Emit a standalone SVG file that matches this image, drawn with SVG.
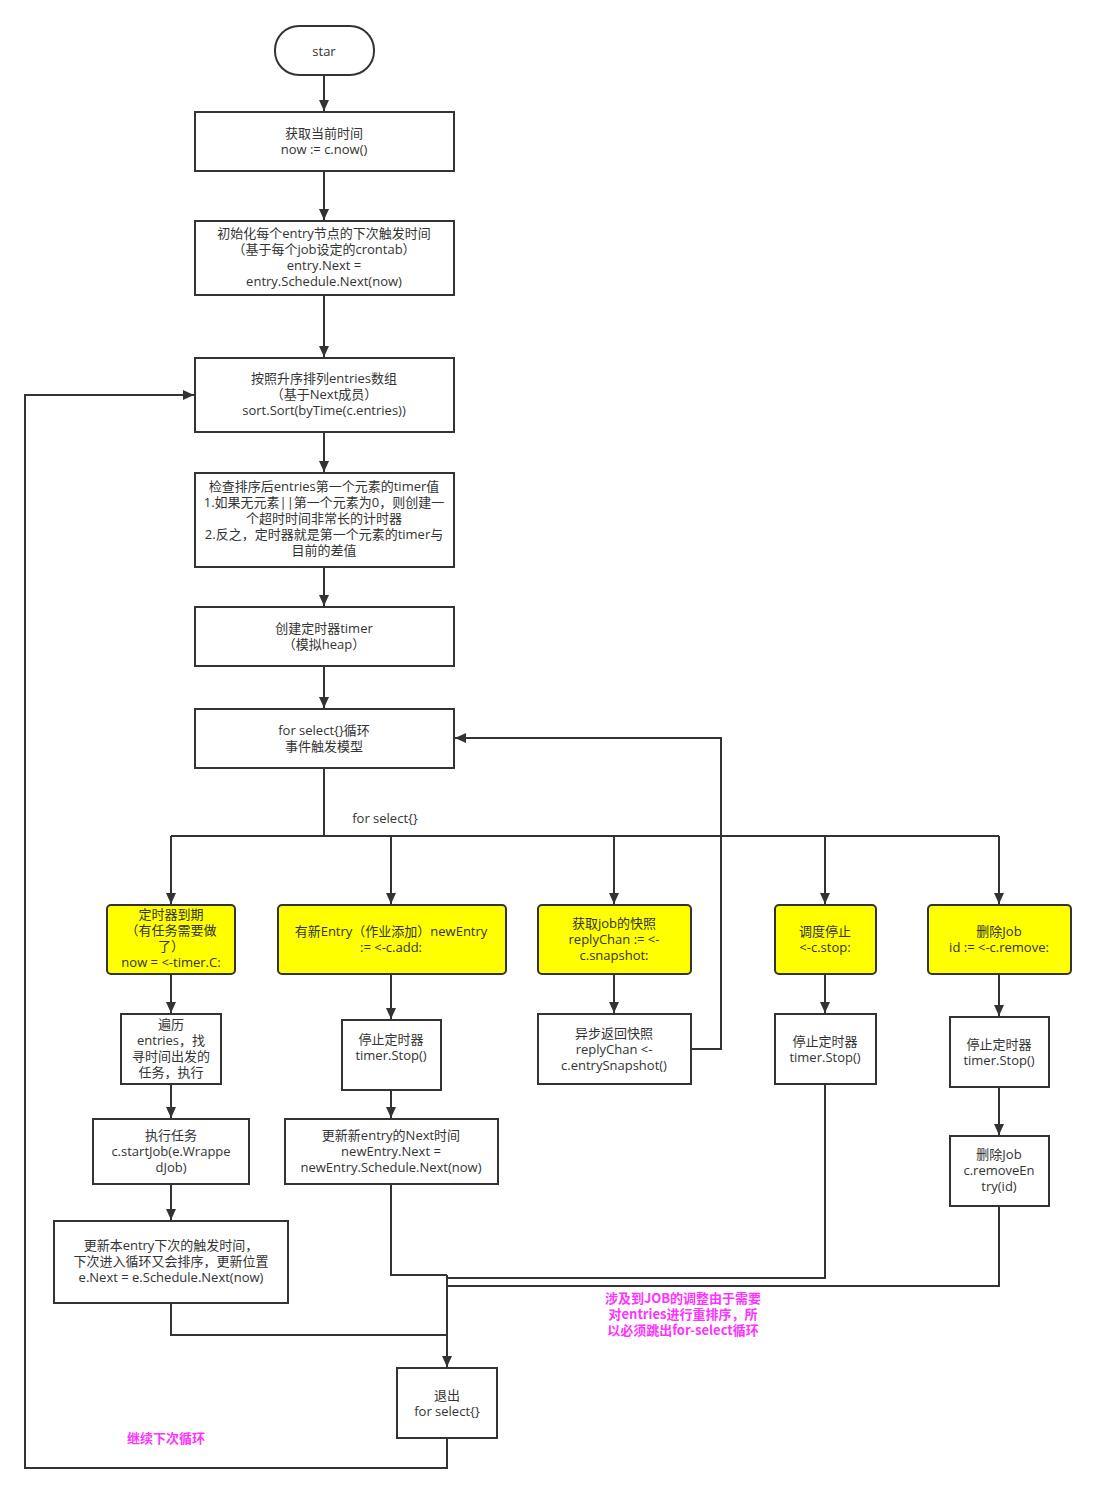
<svg xmlns="http://www.w3.org/2000/svg" width="1096" height="1493" viewBox="0 0 1096 1493">
<style>
.b{fill:#fff;stroke:#333;stroke-width:2}
.y{fill:#ffff00;stroke:#333;stroke-width:2}
.t{font-family:"Open Sans","Noto Sans CJK SC",sans-serif;font-size:13px;fill:#333;text-anchor:middle}
.p{font-family:"Noto Sans CJK SC",sans-serif;font-size:13px;fill:#ff33ff;font-weight:bold;text-anchor:middle}
.e{fill:none;stroke:#333;stroke-width:2}
</style>
<defs>
<marker id="a" markerUnits="userSpaceOnUse" markerWidth="12" markerHeight="12" viewBox="0 0 12 12" refX="11" refY="6" orient="auto">
<path d="M0,1 L11,6 L0,11 z" fill="#333"/>
</marker>
</defs>
<rect width="1096" height="1493" fill="#fff"/>
<g id="connectors">
<path class="e" d="M324,75 V111" marker-end="url(#a)"/>
<path class="e" d="M324,171 V220" marker-end="url(#a)"/>
<path class="e" d="M324,295 V357" marker-end="url(#a)"/>
<path class="e" d="M324,432 V472" marker-end="url(#a)"/>
<path class="e" d="M324,567 V606" marker-end="url(#a)"/>
<path class="e" d="M324,666 V708" marker-end="url(#a)"/>
<path class="e" d="M324,768 V836"/>
<path class="e" d="M171,836 H999"/>
<path class="e" d="M171,836 V904" marker-end="url(#a)"/>
<path class="e" d="M391,836 V904" marker-end="url(#a)"/>
<path class="e" d="M614,836 V904" marker-end="url(#a)"/>
<path class="e" d="M825,836 V904" marker-end="url(#a)"/>
<path class="e" d="M999,836 V904" marker-end="url(#a)"/>
<path class="e" d="M171,974 V1013" marker-end="url(#a)"/>
<path class="e" d="M171,1084 V1118" marker-end="url(#a)"/>
<path class="e" d="M171,1184 V1220" marker-end="url(#a)"/>
<path class="e" d="M391,974 V1019" marker-end="url(#a)"/>
<path class="e" d="M391,1090 V1118" marker-end="url(#a)"/>
<path class="e" d="M614,974 V1013" marker-end="url(#a)"/>
<path class="e" d="M825,974 V1013" marker-end="url(#a)"/>
<path class="e" d="M999,974 V1016" marker-end="url(#a)"/>
<path class="e" d="M999,1087 V1135" marker-end="url(#a)"/>
<path class="e" d="M691,1049 H721 V738 H455" marker-end="url(#a)"/>
<path class="e" d="M391,1184 V1275 H447"/>
<path class="e" d="M825,1084 V1278 H447"/>
<path class="e" d="M999,1206 V1286 H447"/>
<path class="e" d="M171,1303 V1335 H447"/>
<path class="e" d="M447,1275 V1367" marker-end="url(#a)"/>
<path class="e" d="M447,1438 V1468 H25 V395 H194" marker-end="url(#a)"/>
<text class="t" x="385" y="823">for select{}</text>
</g>
<g id="start"><rect class="b" x="275" y="26" width="99" height="49" rx="24"/><text class="t" x="324" y="56">star</text></g>
<g id="n1"><rect class="b" x="195" y="112" width="259" height="59"/><text class="t" x="324" y="138">获取当前时间</text><text class="t" x="324" y="154">now := c.now()</text></g>
<g id="n2"><rect class="b" x="195" y="221" width="259" height="74"/><text class="t" x="324" y="238">初始化每个entry节点的下次触发时间</text><text class="t" x="324" y="254">（基于每个job设定的crontab）</text><text class="t" x="324" y="270">entry.Next =</text><text class="t" x="324" y="286">entry.Schedule.Next(now)</text></g>
<g id="n3"><rect class="b" x="195" y="358" width="259" height="74"/><text class="t" x="324" y="383">按照升序排列entries数组</text><text class="t" x="324" y="399">（基于Next成员）</text><text class="t" x="324" y="415">sort.Sort(byTime(c.entries))</text></g>
<g id="n4"><rect class="b" x="195" y="473" width="259" height="94"/><text class="t" x="324" y="491">检查排序后entries第一个元素的timer值</text><text class="t" x="324" y="507">1.如果无元素||第一个元素为0，则创建一</text><text class="t" x="324" y="523">个超时时间非常长的计时器</text><text class="t" x="324" y="539">2.反之，定时器就是第一个元素的timer与</text><text class="t" x="324" y="555">目前的差值</text></g>
<g id="n5"><rect class="b" x="195" y="607" width="259" height="59"/><text class="t" x="324" y="633">创建定时器timer</text><text class="t" x="324" y="649">（模拟heap）</text></g>
<g id="n6"><rect class="b" x="195" y="709" width="259" height="59"/><text class="t" x="324" y="735">for select{}循环</text><text class="t" x="324" y="751">事件触发模型</text></g>
<g id="y1"><rect class="y" x="107" y="905" width="128" height="69" rx="4"/><text class="t" x="171" y="919">定时器到期</text><text class="t" x="171" y="935">（有任务需要做</text><text class="t" x="171" y="951">了）</text><text class="t" x="171" y="967">now = &lt;-timer.C:</text></g>
<g id="y2"><rect class="y" x="278" y="905" width="228" height="69" rx="4"/><text class="t" x="391" y="936">有新Entry（作业添加）newEntry</text><text class="t" x="391" y="952">:= &lt;-c.add:</text></g>
<g id="y3"><rect class="y" x="538" y="905" width="153" height="69" rx="4"/><text class="t" x="614" y="928">获取job的快照</text><text class="t" x="614" y="944">replyChan := &lt;-</text><text class="t" x="614" y="960">c.snapshot:</text></g>
<g id="y4"><rect class="y" x="775" y="905" width="101" height="69" rx="4"/><text class="t" x="825" y="936">调度停止</text><text class="t" x="825" y="952">&lt;-c.stop:</text></g>
<g id="y5"><rect class="y" x="928" y="905" width="143" height="69" rx="4"/><text class="t" x="999" y="936">删除Job</text><text class="t" x="999" y="952">id := &lt;-c.remove:</text></g>
<g id="a1"><rect class="b" x="121" y="1014" width="100" height="70"/><text class="t" x="171" y="1029">遍历</text><text class="t" x="171" y="1045">entries，找</text><text class="t" x="171" y="1061">寻时间出发的</text><text class="t" x="171" y="1077">任务，执行</text></g>
<g id="b1"><rect class="b" x="342" y="1020" width="99" height="70"/><text class="t" x="391" y="1044">停止定时器</text><text class="t" x="391" y="1060">timer.Stop()</text></g>
<g id="c1"><rect class="b" x="538" y="1014" width="153" height="70"/><text class="t" x="614" y="1038">异步返回快照</text><text class="t" x="614" y="1054">replyChan &lt;-</text><text class="t" x="614" y="1070">c.entrySnapshot()</text></g>
<g id="d1"><rect class="b" x="775" y="1014" width="101" height="70"/><text class="t" x="825" y="1046">停止定时器</text><text class="t" x="825" y="1062">timer.Stop()</text></g>
<g id="e1"><rect class="b" x="950" y="1017" width="99" height="70"/><text class="t" x="999" y="1049">停止定时器</text><text class="t" x="999" y="1065">timer.Stop()</text></g>
<g id="a2"><rect class="b" x="93" y="1119" width="156" height="65"/><text class="t" x="171" y="1140">执行任务</text><text class="t" x="171" y="1156">c.startJob(e.Wrappe</text><text class="t" x="171" y="1172">dJob)</text></g>
<g id="b2"><rect class="b" x="285" y="1119" width="213" height="65"/><text class="t" x="391" y="1140">更新新entry的Next时间</text><text class="t" x="391" y="1156">newEntry.Next =</text><text class="t" x="391" y="1172">newEntry.Schedule.Next(now)</text></g>
<g id="e2"><rect class="b" x="950" y="1136" width="99" height="70"/><text class="t" x="999" y="1159">删除Job</text><text class="t" x="999" y="1175">c.removeEn</text><text class="t" x="999" y="1191">try(id)</text></g>
<g id="a3"><rect class="b" x="54" y="1221" width="234" height="82"/><text class="t" x="171" y="1250">更新本entry下次的触发时间，</text><text class="t" x="171" y="1266">下次进入循环又会排序，更新位置</text><text class="t" x="171" y="1282">e.Next = e.Schedule.Next(now)</text></g>
<g id="exit"><rect class="b" x="397" y="1368" width="100" height="70"/><text class="t" x="447" y="1400">退出</text><text class="t" x="447" y="1416">for select{}</text></g>
<g id="notes">
<text class="p" x="683" y="1303">涉及到JOB的调整由于需要</text>
<text class="p" x="683" y="1319">对entries进行重排序，所</text>
<text class="p" x="683" y="1335">以必须跳出for-select循环</text>
<text class="p" x="166" y="1443">继续下次循环</text>
</g>
</svg>
